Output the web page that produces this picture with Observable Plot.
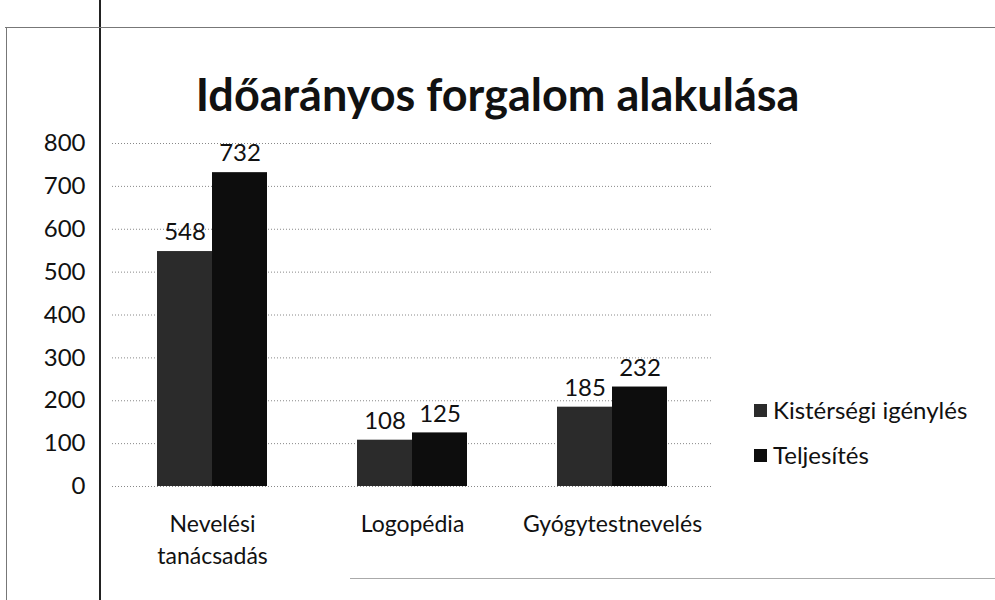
<!DOCTYPE html>
<html>
<head>
<meta charset="utf-8">
<script src="https://cdn.jsdelivr.net/npm/d3@7"></script>
<script src="https://cdn.jsdelivr.net/npm/@observablehq/plot@0.6"></script>
<style>
  html, body { margin: 0; padding: 0; background: #fff; }
  #wrap { position: relative; width: 995px; height: 600px; overflow: hidden; font-family: Lato, "Open Sans", sans-serif; }
  #title { position: absolute; left: 0; width: 995px; top: 67px; text-align: center; font-weight: 700; font-size: 45px; line-height: 54px; color: #111; white-space: nowrap; letter-spacing: 0px; }
  #legend { position: absolute; left: 754px; top: 395px; font-size: 24px; color: #111; }
  #legend div { height: 45px; display: flex; align-items: flex-start; white-space: nowrap; }
  #legend span.sw { display: inline-block; width: 13px; height: 13px; margin-right: 6px; margin-top: 9px; }
  #chart { position: absolute; left: 0; top: 0; }
  .edge { position: absolute; background: #222; }
</style>
</head>
<body>
<div id="wrap">
  <div id="chart"></div>
  <div id="title">Időarányos forgalom alakulása</div>
  <div id="legend"></div>
  <div class="edge" style="left:99px;top:0;width:2px;height:600px;"></div>
  <div class="edge" style="left:5px;top:27px;width:990px;height:1px;background:#777"></div>
  <div class="edge" style="left:6px;top:27px;width:1px;height:573px;background:#777"></div>
  <div class="edge" style="left:350px;top:578px;width:645px;height:1px;background:#aaa"></div>
</div>
<script>
const categories = ["Nevelési\ntanácsadás", "Logopédia", "Gyógytestnevelés"];
const seriesNames = ["Kistérségi igénylés", "Teljesítés"];
const igenyles = [548, 108, 185];
const teljesites = [732, 125, 232];
const yTicks = [0, 100, 200, 300, 400, 500, 600, 700, 800];
const seriesColors = ["#2b2b2b", "#0d0d0d"];

const data = [];
categories.forEach((c, i) => {
  data.push({cat: c, series: seriesNames[0], value: igenyles[i]});
  data.push({cat: c, series: seriesNames[1], value: teljesites[i]});
});

const plot = Plot.plot({
  width: 995,
  height: 600,
  marginLeft: 112,
  marginRight: 283,
  marginTop: 143,
  marginBottom: 114,
  style: {fontFamily: "Lato, 'Open Sans', sans-serif", background: "transparent"},
  fx: {domain: categories, padding: 0, label: null},
  x: {domain: seriesNames, paddingInner: 0, paddingOuter: 0.8, axis: null},
  y: {domain: [0, 800], axis: null},
  color: {domain: seriesNames, range: seriesColors},
  marks: [
    Plot.gridY(yTicks, {stroke: "#888", strokeOpacity: 1, strokeDasharray: "1,2", facetAnchor: null}),
    Plot.ruleX([0], {stroke: "#aaa", strokeDasharray: "1,2", frameAnchor: "left", facetAnchor: "left"}),
    Plot.axisY(yTicks, {anchor: "left", tickSize: 0, tickPadding: 27, fontSize: 24, fill: "#111", label: null, facetAnchor: "left"}),
    Plot.axisFx({anchor: "bottom", tickSize: 0, tickPadding: 23, fontSize: 23, fill: "#111", label: null, lineHeight: 1.38}),
    Plot.barY(data, {fx: "cat", x: "series", y: "value", fill: "series"}),
    Plot.text(data, {fx: "cat", x: "series", y: "value", text: d => String(d.value), dy: -19, fontSize: 24, fill: "#111"})
  ]
});
document.getElementById("chart").appendChild(plot);

const legend = document.getElementById("legend");
seriesNames.forEach((s, i) => {
  const row = document.createElement("div");
  const sw = document.createElement("span");
  sw.className = "sw";
  sw.style.background = seriesColors[i];
  row.appendChild(sw);
  row.appendChild(document.createTextNode(s));
  legend.appendChild(row);
});
</script>
</body>
</html>
